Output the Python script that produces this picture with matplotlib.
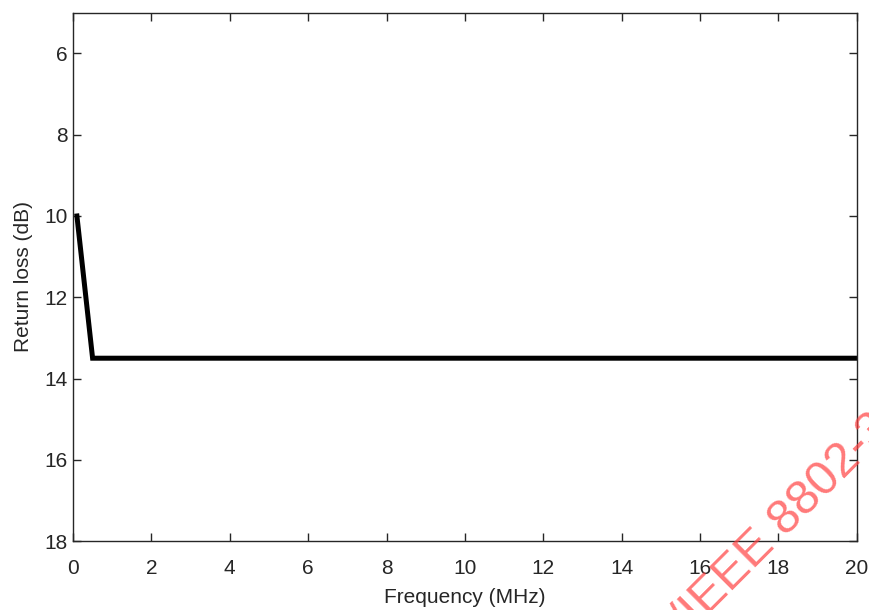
import numpy as np
import matplotlib.pyplot as plt

# data
freq_mhz = [0.1, 0.5, 20.0]
return_loss_db = [10.0, 13.5, 13.5]
x_ticks = [0, 2, 4, 6, 8, 10, 12, 14, 16, 18, 20]
y_ticks = [6, 8, 10, 12, 14, 16, 18]

plt.rcParams['font.family'] = ['Liberation Sans', 'DejaVu Sans']

fig = plt.figure(figsize=(8.69, 6.10), dpi=100)
ax = fig.add_axes([0.084, 0.113, 0.902, 0.866])

ax.plot(freq_mhz, return_loss_db, color='black', linewidth=3.6, solid_joinstyle='miter')

ax.set_xlim(0, 20)
ax.set_ylim(18, 5)
ax.set_xticks(x_ticks)
ax.set_yticks(y_ticks)
ax.tick_params(direction='in', top=True, right=True, length=6, width=1,
               labelsize=15, colors='#262626')
ax.tick_params(axis='x', pad=13)
ax.tick_params(axis='y', pad=4)
for s in ax.spines.values():
    s.set_color('#262626')
    s.set_linewidth(1)

ax.set_xlabel('Frequency (MHz)', fontsize=15, color='#262626', labelpad=7)
ax.set_ylabel('Return loss (dB)', fontsize=15, color='#262626', labelpad=8)

# watermark, mostly running off the bottom-right corner
fig.text(1.028, 0.295, 'ISO/IEC/IEEE 8802-3', color='#ff4040', alpha=0.7, fontsize=35,
         rotation=45, rotation_mode='anchor', ha='right', va='baseline')

fig.savefig('out.png', dpi=100)
